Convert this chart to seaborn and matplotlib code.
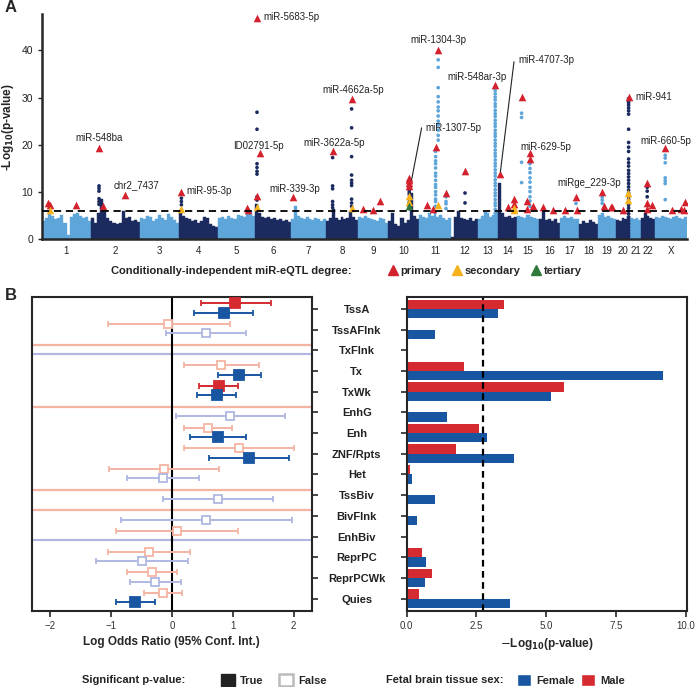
import numpy as np
import pandas as pd
import matplotlib
matplotlib.use('Agg')
import matplotlib.pyplot as plt
import seaborn as sns
from matplotlib.lines import Line2D
from matplotlib.patches import Patch

sns.set_style('ticks')
plt.rcParams['font.family'] = ['Liberation Sans', 'DejaVu Sans']

# ---------------- panel A data (Manhattan plot) ----------------
chrom_names = ['1', '2', '3', '4', '5', '6', '7', '8', '9', '10', '11', '12', '13',
               '14', '15', '16', '17', '18', '19', '20', '21', '22', 'X']
chrom_len = [245, 245, 195, 195, 185, 180, 175, 160, 150, 155, 160, 135, 100,
             95, 110, 105, 95, 95, 90, 70, 55, 70, 160]

# top of the dense cloud of sub-threshold SNPs, left to right along each chromosome
bg_height = [
    [3.8, 4.5, 5.9, 5.0, 4.2, 4.6, 5.2, 3.5, 1.0, 4.8, 5.4, 5.5, 5.0, 4.6, 4.8, 3.9],
    [4.5, 3.5, 5.5, 8.5, 5.8, 4.5, 3.8, 3.5, 3.2, 3.4, 5.9, 4.5, 4.8, 3.8, 4.0, 3.6],
    [4.6, 4.2, 5.0, 4.8, 3.9, 4.4, 5.2, 4.5, 4.0, 5.3, 4.7, 4.1, 3.5],
    [6.2, 5.0, 4.6, 4.3, 3.8, 4.0, 3.5, 3.9, 4.8, 4.5, 3.2, 2.8, 2.5],
    [4.5, 4.8, 4.2, 5.0, 4.6, 4.4, 5.2, 5.0, 4.7, 5.6, 6.0, 5.0],
    [7.5, 5.5, 4.8, 4.5, 4.8, 4.2, 4.6, 4.0, 4.4, 3.8, 4.1, 3.6],
    [4.2, 7.0, 5.0, 4.5, 4.2, 4.8, 4.4, 4.0, 4.6, 4.2, 3.8, 4.3],
    [3.8, 4.5, 6.5, 4.6, 4.0, 4.8, 4.2, 4.5, 6.0, 4.8, 4.0],
    [4.8, 4.5, 5.0, 4.6, 4.2, 4.0, 3.8, 4.5, 4.3, 3.5],
    [3.8, 5.5, 3.2, 2.8, 4.5, 3.5, 4.0, 9.8, 5.0, 4.2],
    [5.2, 4.8, 4.5, 5.5, 5.0, 5.6, 4.8, 5.2, 4.5, 4.0, 4.6],
    [0.5, 4.8, 5.9, 4.5, 4.2, 4.0, 4.5, 3.8, 4.2],
    [4.2, 5.0, 5.8, 5.5, 4.8, 5.2, 6.0],
    [12.0, 5.5, 4.8, 5.0, 4.5, 4.8],
    [5.0, 4.8, 4.5, 5.2, 4.8, 4.6, 4.2],
    [4.2, 5.9, 4.0, 4.4, 3.8, 4.2, 3.5],
    [4.6, 5.0, 4.5, 4.8, 4.2, 4.4],
    [3.2, 3.8, 3.5, 4.0, 3.6, 3.2],
    [5.2, 5.5, 4.8, 5.0, 4.6, 4.2],
    [4.0, 3.8, 4.5, 4.2, 5.0],
    [4.5, 4.2, 4.6, 4.0],
    [4.5, 5.5, 5.0, 4.6, 4.2],
    [4.8, 4.5, 5.0, 4.8, 4.6, 4.2, 4.8, 5.0, 4.5, 4.4, 4.8],
]

# significant (non lead) SNP columns: genome position (Mb, cumulative) and -log10 p
dot_col_pos = [40, 285, 697, 1075, 1453, 1548, 1836, 1981, 1968, 2020, 2115,
               2266, 2398, 2440, 2670, 2801, 2933, 3026, 3116]
dot_col_logp = [
    [6.6],
    [11.3, 10.8, 10.2, 8.6, 8.0, 7.4],
    [8.7, 8.0, 7.3],
    [26.9, 23.3, 16.0, 15.2, 14.4, 13.8, 9.0, 8.3],
    [17.3, 11.3, 10.7, 8.0, 7.3, 6.7],
    [27.6, 23.6, 17.5, 13.6, 12.5, 11.9, 11.4, 8.5, 7.7, 7.0],
    [10.5, 10.0, 9.5, 8.5, 7.8, 7.0, 6.5],
    [38.0, 36.4, 32.1, 30.2, 29.1, 28.0, 27.2, 26.1, 25.0, 24.2, 23.1, 22.0, 21.0],
    [18.6, 17.5, 16.6, 16.0, 15.1, 14.0, 13.4, 12.5, 11.6, 11.0, 10.1, 9.4, 8.5, 8.0, 7.0],
    [9.0, 8.0, 7.5, 6.5],
    [9.8, 7.7],
    [32.2, 31.5, 30.8, 30.1, 29.5, 28.7, 28.1, 27.3, 26.6, 26.0, 25.2, 24.5, 23.9,
     23.1, 22.4, 21.8, 21.0, 20.3, 19.7, 18.9, 18.2, 17.6, 16.8, 16.1, 15.5, 14.7,
     14.0, 13.4, 12.6, 11.9, 11.3, 10.5, 9.8, 9.2, 8.4, 7.7, 7.1, 6.3, 5.6, 5.0,
     4.2, 3.5, 2.9, 2.1, 1.4, 0.8],
    [26.7, 25.8, 16.3, 12.0],
    [16.0, 15.0, 14.1, 13.0, 12.1, 11.0, 10.1, 9.0, 8.1, 7.0],
    [7.6],
    [9.4, 8.9, 8.3, 7.6],
    [29.8, 29.3, 28.9, 28.4, 27.8, 27.2, 26.5, 23.3, 20.5, 19.5, 18.6, 17.0, 16.2,
     15.5, 14.6, 13.9, 13.2, 12.5, 11.8, 11.1, 10.4, 9.8, 9.1, 8.5, 7.9, 7.2, 6.6,
     6.0, 5.4, 4.7, 4.0, 3.3, 2.6, 1.9, 1.2, 0.6],
    [11.0, 10.2, 9.0],
    [17.8, 17.2, 16.2, 13.0, 12.4, 11.8, 8.4],
]

# conditionally independent miR-eQTLs
hit_pos = [31, 40, 40, 170,
           285, 306, 416,
           697, 697,
           1023, 1030,
           1075, 1091, 1073, 1076,
           1256,
           1453, 1548, 1548,
           1607, 1653, 1692,
           1836, 1836, 1836, 1836, 1836, 1836, 1836,
           1923, 1953, 1981, 1968, 1981, 2020,
           2115,
           2266,
           2290, 2331, 2361, 2361, 2361, 2361,
           2398, 2423, 2423, 2440, 2440, 2453,
           2506, 2556,
           2615, 2670, 2676,
           2801, 2811, 2843, 2851,
           2906, 2933, 2931, 2931,
           3026, 3023, 3048, 3026,
           3116, 3148, 3195, 3215, 3210]
hit_logp = [7.7, 7.3, 6.2, 7.3,
            19.4, 7.0, 9.4,
            10.0, 6.4,
            6.7, 6.3,
            46.8, 18.3, 9.2, 6.8,
            9.0,
            18.7, 29.7, 6.6,
            6.4, 6.1, 8.2,
            11.3, 11.9, 12.5, 13.0, 9.1, 7.8, 7.1,
            7.3, 6.4, 7.2, 19.6, 40.0, 9.9,
            14.5,
            32.7,
            13.8, 6.8, 8.5, 7.5, 6.6, 6.1,
            30.2, 8.2, 6.4, 18.2, 17.0, 7.0,
            6.8, 6.1,
            6.1, 8.9, 6.1,
            10.1, 7.1, 6.8, 6.8,
            6.2, 30.2, 9.8, 8.4,
            12.0, 7.7, 7.3, 6.4,
            19.3, 6.1, 6.4, 7.9, 6.2]
hit_degree = ['primary', 'primary', 'secondary', 'primary',
              'primary', 'primary', 'primary',
              'primary', 'secondary',
              'primary', 'primary',
              'primary', 'primary', 'primary', 'secondary',
              'primary',
              'primary', 'primary', 'secondary',
              'primary', 'primary', 'primary',
              'primary', 'primary', 'primary', 'primary', 'secondary', 'secondary', 'tertiary',
              'primary', 'primary', 'secondary', 'primary', 'primary', 'primary',
              'primary',
              'primary',
              'primary', 'primary', 'primary', 'primary', 'secondary', 'secondary',
              'primary', 'primary', 'primary', 'primary', 'primary', 'primary',
              'primary', 'primary',
              'primary', 'primary', 'primary',
              'primary', 'primary', 'primary', 'primary',
              'primary', 'primary', 'secondary', 'secondary',
              'primary', 'primary', 'primary', 'primary',
              'primary', 'primary', 'primary', 'primary', 'primary']

label_text = ['miR-548ba', 'chr2_7437', 'miR-95-3p', 'miR-5683-5p', 'ID02791-5p',
              'miR-339-3p', 'miR-3622a-5p', 'miR-4662a-5p', 'miR-1304-3p',
              'miR-548ar-3p', 'miR-4707-3p', 'miR-1307-5p', 'miR-629-5p',
              'miR-941', 'miR-660-5p', 'miRge_229-3p']
label_x = [283, 473, 723, 1106, 1081, 1265, 1463, 1555, 1981, 2176, 2520, 2056,
           2519, 2968, 3120, 2734]
label_y = [21.5, 11.5, 10.3, 47.0, 19.8, 10.6, 20.4, 31.6, 42.2, 34.4, 38.0, 23.6,
           19.6, 30.2, 20.8, 12.0]
label_ha = ['center', 'center', 'left', 'left', 'center', 'center', 'center', 'center',
            'center', 'center', 'center', 'center', 'center', 'left', 'center', 'center']
# leader lines (label end -> SNP)
leader_x = [[2360, 2292], [1898, 1848]]
leader_y = [[37.6, 14.3], [23.6, 12.6]]

# ---------------- panel B data (chromatin state enrichment) ----------------
states = ['TssA', 'TssAFlnk', 'TxFlnk', 'Tx', 'TxWk', 'EnhG', 'Enh', 'ZNF/Rpts',
          'Het', 'TssBiv', 'BivFlnk', 'EnhBiv', 'ReprPC', 'ReprPCWk', 'Quies']
inf = np.inf
nan = np.nan
male_lor = [1.04, -0.06, nan, 0.81, 0.77, nan, 0.60, 1.10, -0.13, nan, nan, 0.09, -0.38, -0.32, -0.14]
male_lo = [0.48, -1.05, -inf, 0.20, 0.45, -inf, 0.20, 0.20, -1.03, -inf, -inf, -0.91, -1.05, -0.73, -0.46]
male_hi = [1.62, 0.96, inf, 1.43, 1.09, inf, 0.99, 2.01, 0.78, inf, inf, 1.09, 0.30, 0.09, 0.17]
male_sig = [True, False, False, False, True, False, False, False, False, False, False, False, False, False, False]
female_lor = [0.85, 0.56, nan, 1.11, 0.74, 0.96, 0.75, 1.27, -0.15, 0.76, 0.56, nan, -0.49, -0.27, -0.61]
female_lo = [0.37, -0.10, -inf, 0.76, 0.42, 0.06, 0.29, 0.61, -0.73, -0.14, -0.84, -inf, -1.25, -0.69, -0.92]
female_hi = [1.33, 1.21, inf, 1.47, 1.06, 1.86, 1.21, 1.93, 0.44, 1.66, 1.97, inf, 0.27, 0.15, -0.28]
female_sig = [True, False, False, True, True, False, True, True, False, False, False, False, False, False, True]
male_logp = [3.50, 0, 0, 2.05, 5.63, 0, 2.60, 1.78, 0.11, 0, 0, 0.06, 0.56, 0.90, 0.43]
female_logp = [3.29, 1.02, 0, 9.18, 5.17, 1.45, 2.87, 3.84, 0.20, 1.02, 0.36, 0, 0.68, 0.67, 3.70]
p_cutoff = 2.72

# ---------------- styling ----------------
light = '#5ea6da'
dark = '#1b2b60'
deg_colors = {'primary': '#d3212d', 'secondary': '#f5b21c', 'tertiary': '#2f7a3a'}
red = '#d42a30'
blue = '#1856a2'
red_light = '#f4b4a2'
blue_light = '#b0b8e2'
txt = '#222222'

W, H = 695, 687
fig = plt.figure(figsize=(W / 100, H / 100), dpi=100)


def box(l, t, r, b):
    return [l / W, 1 - b / H, (r - l) / W, (b - t) / H]


axA = fig.add_axes(box(42, 14, 687, 239.3))
axL = fig.add_axes(box(31.7, 297, 312, 611))
axR = fig.add_axes(box(406.7, 297, 687, 611))

# ---- panel A ----
starts = np.concatenate([[0], np.cumsum(chrom_len)])
for i, (s, L, h) in enumerate(zip(starts[:-1], chrom_len, bg_height)):
    w = L / len(h)
    c = light if i % 2 == 0 else dark
    axA.bar(s + w * np.arange(len(h)), h, width=w, align='edge', color=c,
            edgecolor=c, linewidth=0.3, zorder=1)

dot_x = np.repeat(dot_col_pos, [len(v) for v in dot_col_logp])
dot_y = np.concatenate(dot_col_logp)
dot_chr = np.searchsorted(starts, dot_x, side='right') - 1
dot_shade = np.where(dot_chr % 2 == 0, 'light', 'dark')
sns.scatterplot(x=dot_x, y=dot_y, hue=dot_shade, palette={'light': light, 'dark': dark},
                s=7, linewidth=0, legend=False, ax=axA, zorder=2)

hits = pd.DataFrame({'pos': hit_pos, 'logp': hit_logp, 'degree': hit_degree})
for deg in ['primary', 'secondary', 'tertiary']:
    sub = hits[hits['degree'] == deg]
    sns.scatterplot(data=sub, x='pos', y='logp', color=deg_colors[deg], marker='^',
                    s=30, linewidth=0, ax=axA, zorder=3)

axA.axhline(6.0, color='black', ls=(0, (4, 2.6)), lw=1.3, zorder=4)

for t, x, y, ha in zip(label_text, label_x, label_y, label_ha):
    axA.text(x, y, t, ha=ha, va='center', fontsize=7, color=txt, zorder=5)
for lx, ly in zip(leader_x, leader_y):
    axA.plot(lx, ly, color=txt, lw=0.8, zorder=5)

axA.set_xlim(0, starts[-1])
axA.set_ylim(0, 47.7)
centers = (starts[:-1] + starts[1:]) / 2
axA.set_xticks(centers)
axA.set_xticklabels(chrom_names, fontsize=7, color=txt)
axA.tick_params(axis='x', length=0, pad=5)
axA.set_yticks([0, 10, 20, 30, 40])
axA.tick_params(axis='y', labelsize=7.5, labelcolor=txt, length=3, width=1)
axA.set_xlabel('')
axA.set_ylabel(r'-Log$_{\mathbf{10}}$(p-value)', fontsize=8.5, fontweight='bold', va='center')
axA.yaxis.set_label_coords(-0.052, 0.5)
for sp in ['top', 'right']:
    axA.spines[sp].set_visible(False)
for sp in ['left', 'bottom']:
    axA.spines[sp].set_linewidth(1.8)

fig.text(111 / W, 1 - 271 / H, 'Conditionally-independent miR-eQTL degree:',
         fontsize=8, fontweight='bold', ha='left', va='center', color=txt)
deg_handles = [Line2D([], [], marker='^', ls='', color=deg_colors[d], markersize=7, label=d)
               for d in ['primary', 'secondary', 'tertiary']]
fig.legend(handles=deg_handles, loc='center left', bbox_to_anchor=(387 / W, 1 - 271 / H),
           ncol=3, frameon=False, handlelength=1.0, handletextpad=0.2,
           columnspacing=0.9, borderpad=0, borderaxespad=0,
           prop={'weight': 'bold', 'size': 8})

# ---- panel B left: log odds ratios ----
for lor, lo, hi, sig, off, c_dark, c_light in [
        (male_lor, male_lo, male_hi, male_sig, -0.27, red, red_light),
        (female_lor, female_lo, female_hi, female_sig, 0.18, blue, blue_light)]:
    for i in range(len(states)):
        y = i + off
        if np.isnan(lor[i]):
            axL.axhline(y, color=c_light, lw=1.6, zorder=1)
            continue
        c = c_dark if sig[i] else c_light
        axL.errorbar(lor[i], y, xerr=[[lor[i] - lo[i]], [hi[i] - lor[i]]], fmt='s',
                     ms=6.5 if sig[i] else 6, color=c, ecolor=c, elinewidth=1.4,
                     capsize=2.2, capthick=1.2, mfc=c if sig[i] else 'white', mec=c,
                     mew=1.3, zorder=3 if sig[i] else 2)
axL.axvline(0, color='black', lw=1.5, zorder=1.5)
axL.set_xlim(-2.3, 2.3)
axL.set_ylim(len(states) - 0.4, -0.58)
axL.set_xticks([-2, -1, 0, 1, 2])
axL.yaxis.tick_right()
axL.set_yticks(range(len(states)))
axL.set_yticklabels([])
axL.tick_params(axis='both', length=4, width=1.2, labelsize=7, labelcolor='#333333', pad=3)
axL.set_xlabel('Log Odds Ratio (95% Conf. Int.)', fontsize=8.5, fontweight='bold', labelpad=4)
for sp in axL.spines.values():
    sp.set_linewidth(1.5)

# ---- panel B right: enrichment p-values ----
bar_df = pd.DataFrame({'state': states * 2,
                       'sex': ['Male'] * len(states) + ['Female'] * len(states),
                       'logp': male_logp + female_logp})
sns.barplot(data=bar_df, y='state', x='logp', hue='sex', order=states,
            hue_order=['Male', 'Female'], palette={'Male': red, 'Female': blue},
            orient='h', width=0.9, errorbar=None, legend=False, linewidth=0,
            saturation=1, ax=axR)
axR.axvline(p_cutoff, color='black', ls=(0, (3, 2)), lw=1.6)
axR.set_xlim(0, 10.05)
axR.set_ylim(len(states) - 0.4, -0.58)
axR.set_xticks([0, 2.5, 5, 7.5, 10])
axR.set_yticks(range(len(states)))
axR.set_yticklabels(states, fontsize=8, fontweight='bold', ha='center', color=txt)
axR.tick_params(axis='y', length=4, width=1.2, pad=32)
axR.tick_params(axis='x', length=4, width=1.2, labelsize=7, labelcolor='#333333', pad=3)
axR.set_ylabel('')
axR.set_xlabel(r'$-$Log$_{\mathbf{10}}$(p-value)', fontsize=8.5, fontweight='bold', labelpad=4)
for sp in axR.spines.values():
    sp.set_linewidth(1.5)

# ---- bottom legends ----
fig.text(82 / W, 1 - 680 / H, 'Significant p-value:', fontsize=8, fontweight='bold',
         ha='left', va='center', color=txt)
sig_handles = [Patch(facecolor='#222222', edgecolor='#222222', label='True'),
               Patch(facecolor='white', edgecolor='#bbbbbb', linewidth=1.8, label='False')]
fig.legend(handles=sig_handles, loc='center left', bbox_to_anchor=(221 / W, 1 - 680 / H),
           ncol=2, frameon=False, handlelength=1.3, handleheight=1.3, handletextpad=0.4,
           columnspacing=1.4, borderpad=0, borderaxespad=0, prop={'weight': 'bold', 'size': 8})
fig.text(386 / W, 1 - 680 / H, 'Fetal brain tissue sex:', fontsize=8, fontweight='bold',
         ha='left', va='center', color=txt)
sex_handles = [Patch(facecolor=blue, label='Female'), Patch(facecolor=red, label='Male')]
fig.legend(handles=sex_handles, loc='center left', bbox_to_anchor=(517 / W, 1 - 680 / H),
           ncol=2, frameon=False, handlelength=1.3, handleheight=1.3, handletextpad=0.4,
           columnspacing=0.6, borderpad=0, borderaxespad=0, prop={'weight': 'bold', 'size': 8})

fig.text(5 / W, 1 - 8 / H, 'A', fontsize=12, fontweight='bold', va='center', ha='left')
fig.text(5 / W, 1 - 296 / H, 'B', fontsize=12, fontweight='bold', va='center', ha='left')

fig.savefig('out.png', dpi=100)
